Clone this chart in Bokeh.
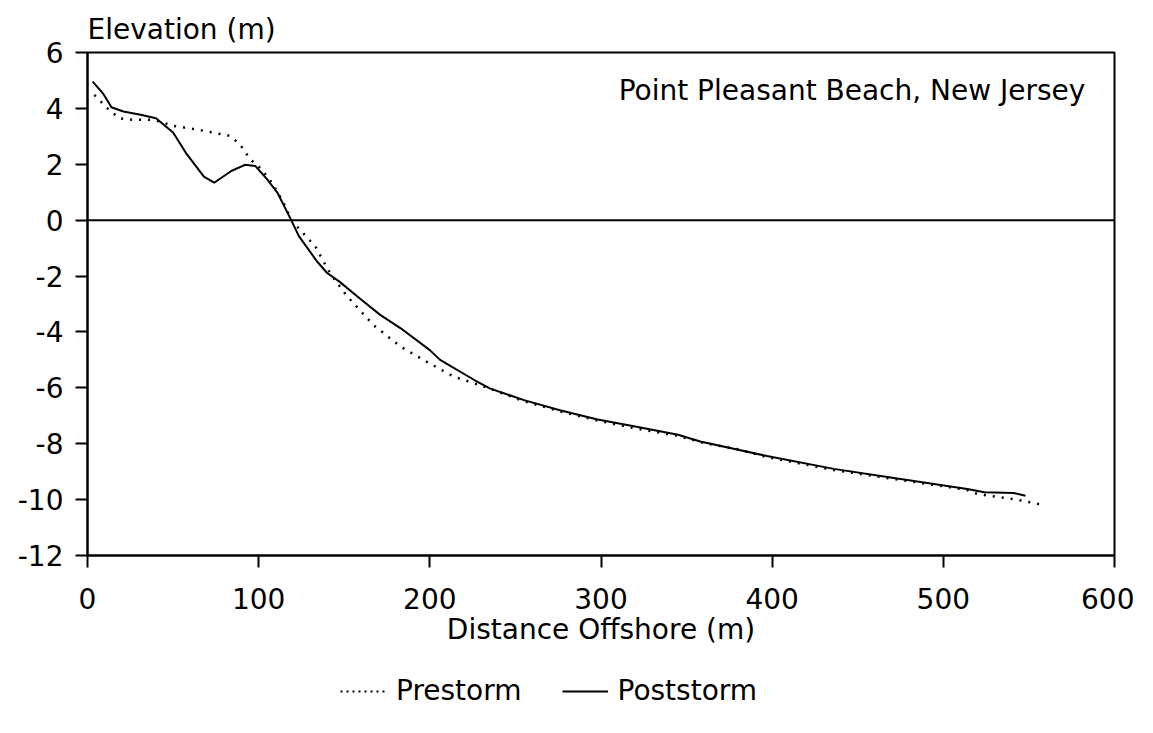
from bokeh.plotting import figure
from bokeh.models import Legend, LegendItem, Span, Label, FixedTicker
from bokeh.layouts import column
from bokeh.embed import file_html
from bokeh.resources import INLINE

# Prestorm profile (dotted)
pre_x = [4, 13, 19, 27, 39, 50, 66, 83, 89, 95, 100, 106, 111, 114, 119, 124, 133, 140, 143, 151, 158, 167, 183, 200, 214, 232, 255, 276, 298, 320, 345, 360, 380, 397, 420, 436, 460, 475, 500, 514, 520, 541, 556]
pre_y = [4.48, 3.92, 3.64, 3.59, 3.59, 3.38, 3.22, 3.02, 2.72, 2.18, 1.92, 1.50, 1.0, 0.68, 0.03, -0.34, -0.93, -1.71, -2.01, -2.67, -3.15, -3.75, -4.53, -5.13, -5.60, -5.96, -6.48, -6.84, -7.17, -7.45, -7.72, -7.97, -8.2, -8.48, -8.75, -8.94, -9.16, -9.30, -9.52, -9.66, -9.80, -9.98, -10.16]

# Poststorm profile (solid)
post_x = [3, 9, 14, 21, 31, 40, 50, 58, 68, 74, 84, 92, 98, 105, 111, 119, 123.5, 134, 140, 147, 160, 171, 183, 200, 206, 226, 235, 255, 276, 298, 320, 345, 358, 397, 436, 475, 514, 524, 541, 548]
post_y = [4.96, 4.54, 4.04, 3.89, 3.77, 3.65, 3.14, 2.36, 1.56, 1.34, 1.76, 1.98, 1.94, 1.46, 0.98, 0.0, -0.57, -1.47, -1.89, -2.19, -2.85, -3.39, -3.87, -4.65, -5.0, -5.72, -6.02, -6.44, -6.80, -7.13, -7.38, -7.68, -7.92, -8.44, -8.9, -9.26, -9.62, -9.74, -9.76, -9.86]

x_ticks = [0, 100, 200, 300, 400, 500, 600]
y_ticks = [-12, -10, -8, -6, -4, -2, 0, 2, 4, 6]
y_tick_labels = ["-12", "-10", "-8", "-6", "-4", "-2", "0", "2", "4", "6"]
series_names = ["Prestorm", "Poststorm"]

FONT = "DejaVu Sans"
FS = "28px"
PRE_DASH = "2 7"

p = figure(frame_width=1027, frame_height=503, x_range=(0, 600), y_range=(-12, 6),
           output_backend="svg", toolbar_location=None,
           min_border_left=87, min_border_right=20, min_border_top=52, min_border_bottom=100)

p.grid.visible = False
p.outline_line_color = "black"
p.outline_line_width = 2
p.background_fill_color = "white"
p.border_fill_color = "white"

p.title.text = "Elevation (m)"
p.title.align = "left"
p.title.text_font = FONT
p.title.text_font_size = FS
p.title.text_font_style = "normal"
p.title.text_color = "black"
p.title.offset = 0
p.title.standoff = 14

for ax in (p.xaxis[0], p.yaxis[0]):
    ax.axis_line_width = 2
    ax.axis_line_color = "black"
    ax.major_tick_line_width = 2
    ax.major_tick_line_color = "black"
    ax.major_tick_in = 0
    ax.major_tick_out = 12
    ax.minor_tick_line_color = None
    ax.major_label_text_font = FONT
    ax.major_label_text_font_size = FS
    ax.major_label_text_color = "black"
    ax.axis_label_text_font = FONT
    ax.axis_label_text_font_size = FS
    ax.axis_label_text_font_style = "normal"
    ax.axis_label_text_color = "black"

p.xaxis.ticker = FixedTicker(ticks=x_ticks)
p.yaxis.ticker = FixedTicker(ticks=y_ticks)
p.yaxis.major_label_overrides = {t: l for t, l in zip(y_ticks, y_tick_labels)}
p.xaxis.axis_label = "Distance Offshore (m)"
p.xaxis.major_label_standoff = 20
p.xaxis.axis_label_standoff = 1
p.yaxis.major_label_standoff = 12

p.add_layout(Span(location=0, dimension="width", line_color="black", line_width=2))

p.line(pre_x, pre_y, line_color="black", line_width=2.5, line_dash=PRE_DASH)
p.line(post_x, post_y, line_color="black", line_width=2)

p.add_layout(Label(x=583, y=4.63, text="Point Pleasant Beach, New Jersey", text_align="right",
                   text_baseline="middle", text_font=FONT, text_font_size=FS, text_color="black"))

# Legend strip below the chart (same series, drawn off-range so only the legend shows)
lg = figure(width=1134, height=70, x_range=(-2, -1), y_range=(-2, -1),
            output_backend="svg", toolbar_location=None,
            x_axis_type=None, y_axis_type=None,
            min_border_left=0, min_border_right=0, min_border_top=0, min_border_bottom=0)
lg.grid.visible = False
lg.outline_line_color = None
lg.border_fill_color = "white"
lg.background_fill_color = "white"
l_pre = lg.line(pre_x, pre_y, line_color="black", line_width=2, line_dash="2 4")
l_post = lg.line(post_x, post_y, line_color="black", line_width=2)

legend = Legend(items=[LegendItem(label=series_names[0], renderers=[l_pre]),
                       LegendItem(label=series_names[1], renderers=[l_post])],
                orientation="horizontal", location=(253, 18))
legend.label_text_font = FONT
legend.label_text_font_size = FS
legend.label_text_color = "black"
legend.border_line_color = None
legend.background_fill_alpha = 0
legend.glyph_width = 46
legend.spacing = 40
legend.margin = 0
legend.padding = 0
legend.label_standoff = 10
lg.add_layout(legend, "center")

open("out.html", "w").write(file_html(column(p, lg, spacing=0), INLINE))
